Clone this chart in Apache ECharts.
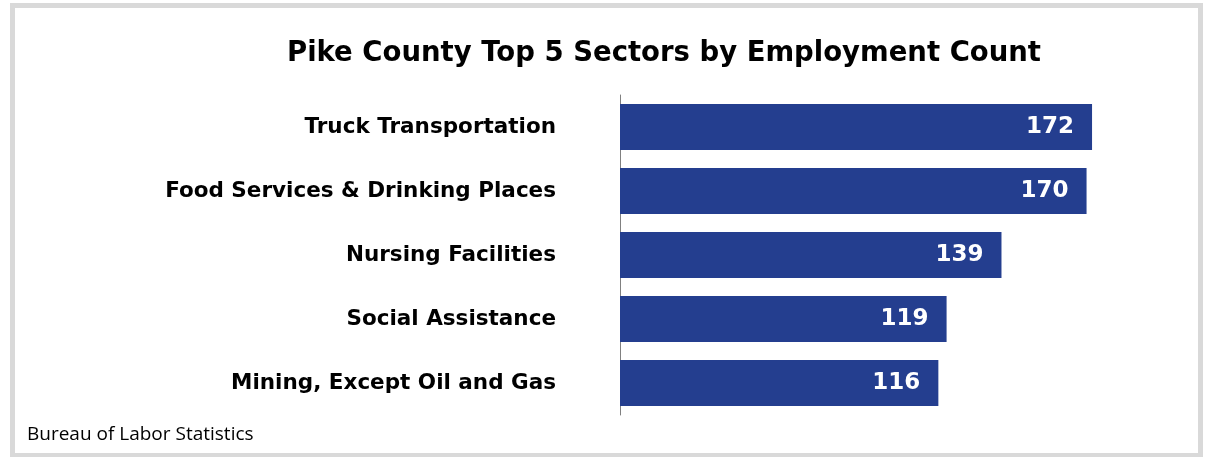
<!DOCTYPE html>
<html>
<head>
<meta charset="utf-8">
<script src="https://cdn.jsdelivr.net/npm/echarts@6/dist/echarts.min.js"></script>
<style>
html,body{margin:0;padding:0;background:#fff;}
#c{width:1205px;height:457px;}
</style>
</head>
<body>
<div id="c"></div>
<script>
const categories = ["Truck Transportation","Food Services & Drinking Places","Nursing Facilities","Social Assistance","Mining, Except Oil and Gas"];
const values = [172,170,139,119,116];
const titleText = "Pike County Top 5 Sectors by Employment Count";
const sourceText = "Bureau of Labor Statistics";

const chart = echarts.init(document.getElementById('c'));
chart.setOption({
  animation:false,
  backgroundColor:'#ffffff',
  title:{
    text:titleText,
    left:659, top:35, textAlign:'center',
    textStyle:{fontFamily:'DejaVu Sans',fontWeight:'bold',fontSize:27.5,color:'#000'}
  },
  graphic:[
    {type:'rect',shape:{x:12.5,y:5.5,width:1188,height:450},style:{fill:'none',stroke:'#d9d9d9',lineWidth:5},silent:true},
    {type:'text',left:27,top:425,style:{text:sourceText,font:'19px "Open Sans"',fill:'#000'}}
  ],
  grid:{left:620,top:95,width:494,height:320,containLabel:false},
  xAxis:{type:'value',min:0,max:180,show:false},
  yAxis:{
    type:'category',data:categories,inverse:true,
    axisLine:{show:true,lineStyle:{color:'#808080',width:1}},
    axisTick:{show:false},
    axisLabel:{margin:64,fontFamily:'DejaVu Sans',fontWeight:'bold',fontSize:21.5,color:'#000'}
  },
  series:[{
    type:'bar',data:values,barWidth:'72%',
    itemStyle:{color:'#243e8f'},
    label:{show:true,position:'insideRight',distance:18,color:'#fff',fontFamily:'DejaVu Sans',fontWeight:'bold',fontSize:23}
  }]
});
</script>
</body>
</html>
